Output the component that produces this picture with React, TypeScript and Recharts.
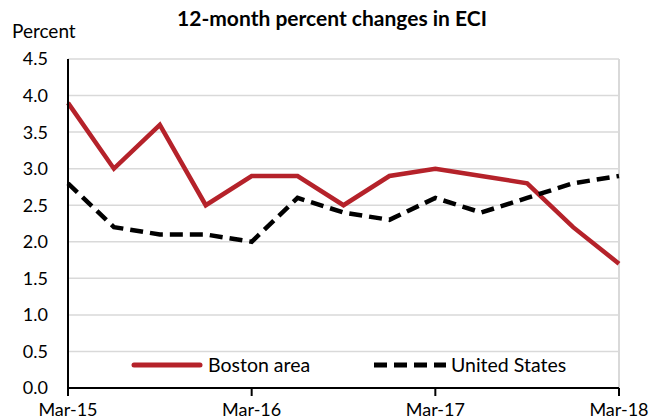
import React from "react";
import {
  LineChart,
  Line,
  XAxis,
  YAxis,
  CartesianGrid,
  ReferenceLine,
} from "recharts";

const categories = [
  "Mar-15", "Jun-15", "Sep-15", "Dec-15",
  "Mar-16", "Jun-16", "Sep-16", "Dec-16",
  "Mar-17", "Jun-17", "Sep-17", "Dec-17",
  "Mar-18",
];
const bostonArea = [3.9, 3.0, 3.6, 2.5, 2.9, 2.9, 2.5, 2.9, 3.0, 2.9, 2.8, 2.2, 1.7];
const unitedStates = [2.8, 2.2, 2.1, 2.1, 2.0, 2.6, 2.4, 2.3, 2.6, 2.4, 2.6, 2.8, 2.9];
const xTickIndexes = [0, 4, 8, 12];
const yTicks = [0, 0.5, 1, 1.5, 2, 2.5, 3, 3.5, 4, 4.5];
const seriesNames = ["Boston area", "United States"];

const data = categories.map((c, i) => ({
  idx: i,
  label: c,
  boston: bostonArea[i],
  us: unitedStates[i],
}));

const FONT = "Lato, 'Open Sans', sans-serif";
const RED = "#B5222A";
const DASH = "13 7";

const legendText: React.CSSProperties = {
  position: "absolute",
  top: 351,
  fontFamily: FONT,
  fontSize: 19.5,
  color: "#000",
  lineHeight: "28px",
  whiteSpace: "nowrap",
};

const LegendOverlay = () => (
  <>
    <svg width={80} height={10} style={{ position: "absolute", left: 128, top: 360 }}>
      <line x1={6} y1={5} x2={72} y2={5} stroke={RED} strokeWidth={5} strokeLinecap="round" />
    </svg>
    <div style={{ ...legendText, left: 208 }}>{seriesNames[0]}</div>
    <svg width={80} height={10} style={{ position: "absolute", left: 372, top: 360 }}>
      <line x1={2} y1={5} x2={74} y2={5} stroke="#000" strokeWidth={5} strokeDasharray={DASH} />
    </svg>
    <div style={{ ...legendText, left: 451 }}>{seriesNames[1]}</div>
  </>
);

export default function App() {
  return (
    <div style={{ position: "absolute", left: 0, top: 0, width: 666, height: 419, background: "#fff" }}>
      <LineChart
        width={666}
        height={419}
        data={data}
        margin={{ top: 59, right: 47, left: 0, bottom: 0 }}
      >
        <CartesianGrid horizontal vertical={false} stroke="#D9D9D9" strokeWidth={1.5} />
        <ReferenceLine x={12} stroke="#D9D9D9" strokeWidth={2} />
        <XAxis
          dataKey="idx"
          type="number"
          domain={[0, 12]}
          ticks={xTickIndexes}
          tickFormatter={(v: number) => categories[v]}
          height={31}
          interval={0}
          stroke="#000"
          strokeWidth={2}
          tickSize={8}
          tickMargin={7}
          tick={{ fill: "#000", fontFamily: FONT, fontSize: 18 }}
        />
        <YAxis
          type="number"
          domain={[0, 4.5]}
          ticks={yTicks}
          tickFormatter={(v: number) => v.toFixed(1)}
          width={68}
          interval={0}
          stroke="#000"
          strokeWidth={2}
          tickLine={false}
          tickSize={0}
          tickMargin={20}
          tick={{ fill: "#000", fontFamily: FONT, fontSize: 18 }}
        />
        <Line
          type="linear"
          dataKey="boston"
          name={seriesNames[0]}
          stroke={RED}
          strokeWidth={4.5}
          dot={false}
          isAnimationActive={false}
        />
        <Line
          type="linear"
          dataKey="us"
          name={seriesNames[1]}
          stroke="#000"
          strokeWidth={4.5}
          strokeDasharray={DASH}
          dot={false}
          isAnimationActive={false}
        />
      </LineChart>
      <div
        style={{
          position: "absolute",
          left: 0,
          width: 666,
          top: 5,
          textAlign: "center",
          fontFamily: FONT,
          fontWeight: "bold",
          fontSize: 21,
          color: "#000",
        }}
      >
        <span style={{ position: "relative", left: -1 }}>12-month percent changes in ECI</span>
      </div>
      <div
        style={{
          position: "absolute",
          left: 12,
          top: 19,
          fontFamily: FONT,
          fontSize: 19,
          color: "#000",
        }}
      >
        Percent
      </div>
      <LegendOverlay />
    </div>
  );
}
